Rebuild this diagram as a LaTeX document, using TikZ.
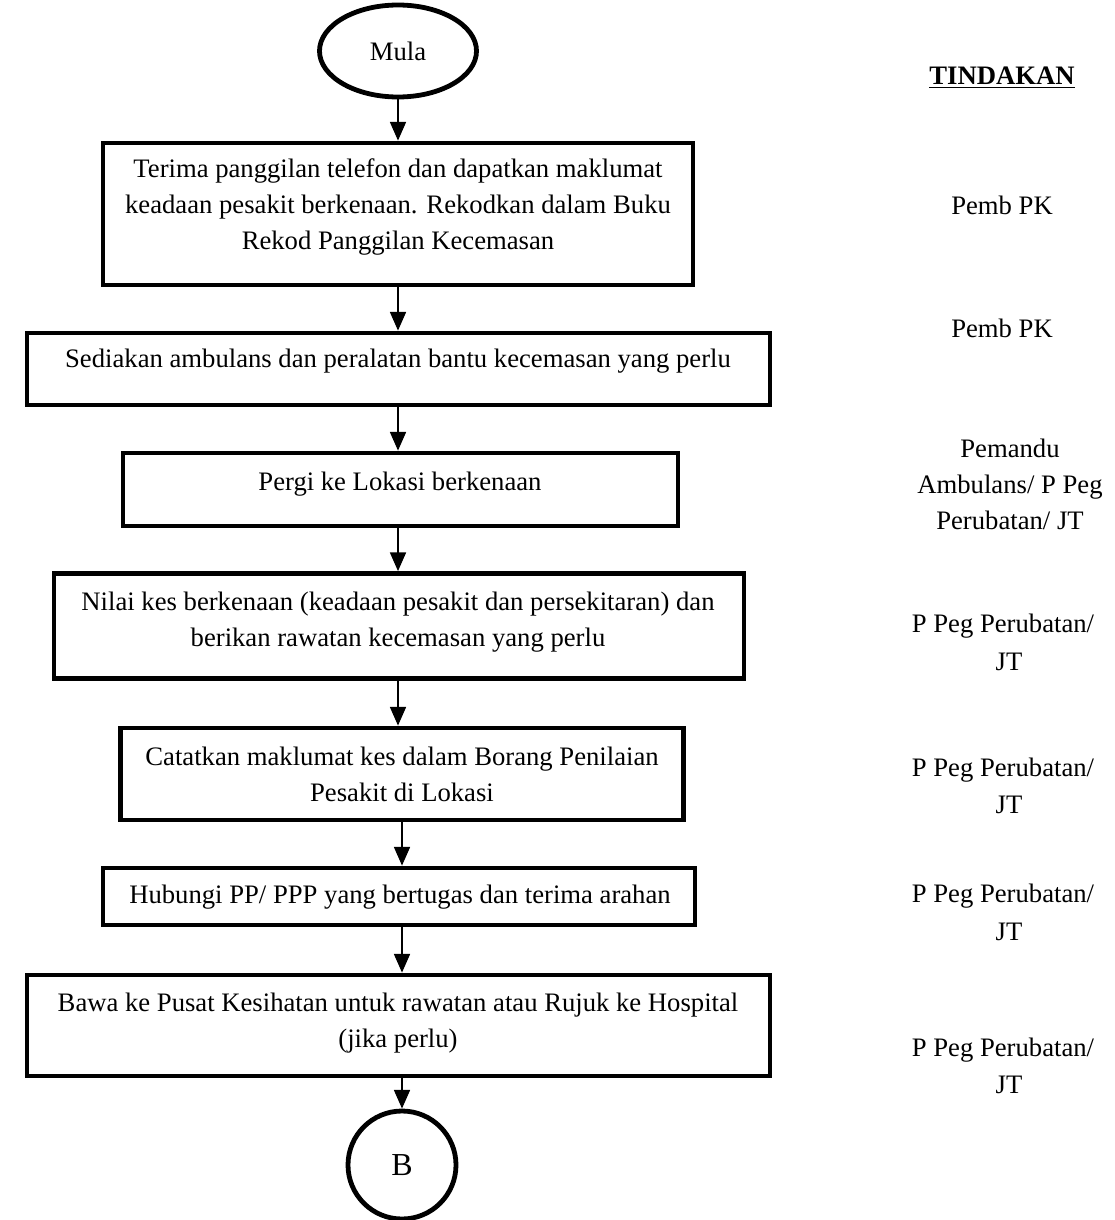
\documentclass[tikz,border=0pt]{standalone}
\usepackage{fontspec}
\setmainfont{Liberation Serif}
\usetikzlibrary{arrows.meta,shapes.geometric}
\begin{document}
\begin{tikzpicture}[x=0.375pt,y=-0.375pt,
  box/.style={draw,line width=1.8pt,rectangle,inner sep=0pt},
  term/.style={draw,line width=1.8pt,ellipse,inner sep=0pt},
  txt/.style={font=\fontsize{10}{13.5}\selectfont,align=center,inner sep=0pt},
  act/.style={font=\fontsize{10}{13.5}\selectfont,inner sep=0pt,align=center},
  arr/.style={line width=0.6pt,-{Triangle[length=7pt,width=6pt]}}]
\useasboundingbox (0,0) rectangle (1114,1220);
\node[term,minimum width=157*0.375pt,minimum height=92*0.375pt] (start) at (398,51) {};
\node[txt] (tstart) at (398,51) {Mula};
\node[box,minimum width=590*0.375pt,minimum height=142*0.375pt] (b1) at (398,214) {};
\node[txt] (t1) at (398,207) {Terima panggilan telefon dan dapatkan maklumat\\keadaan pesakit berkenaan. Rekodkan dalam Buku\\Rekod Panggilan Kecemasan};
\node[box,minimum width=743*0.375pt,minimum height=72*0.375pt] (b2) at (398.5,369) {};
\node[txt] (t2) at (398,361) {Sediakan ambulans dan peralatan bantu kecemasan yang perlu};
\node[box,minimum width=555*0.375pt,minimum height=73*0.375pt] (b3) at (400.5,489.5) {};
\node[txt] (t3) at (400,484) {Pergi ke Lokasi berkenaan};
\node[box,minimum width=690*0.375pt,minimum height=105*0.375pt] (b4) at (399,626) {};
\node[txt] (t4) at (398,622) {Nilai kes berkenaan (keadaan pesakit dan persekitaran) dan\\berikan rawatan kecemasan yang perlu};
\node[box,minimum width=563*0.375pt,minimum height=92*0.375pt] (b5) at (402,774) {};
\node[txt] (t5) at (402,774) {Catatkan maklumat kes dalam Borang Penilaian\\Pesakit di Lokasi};
\node[box,minimum width=592*0.375pt,minimum height=57*0.375pt] (b6) at (399,896.5) {};
\node[txt] (t6) at (400,897) {Hubungi PP/ PPP yang bertugas dan terima arahan};
\node[box,minimum width=743*0.375pt,minimum height=101*0.375pt] (b7) at (398.5,1025.5) {};
\node[txt] (t7) at (398,1023) {Bawa ke Pusat Kesihatan untuk rawatan atau Rujuk ke Hospital\\(jika perlu)};
\node[term,circle,minimum size=108*0.375pt] (end) at (402,1165) {};
\node[txt,font=\fontsize{12}{14}\selectfont] (tend) at (402,1165) {B};
\draw[arr] (start.south) -- (b1.north);
\draw[arr] (b1.south) -- (b1.south |- b2.north);
\draw[arr] (b1.south |- b2.south) -- (b1.south |- b3.north);
\draw[arr] (b1.south |- b3.south) -- (b1.south |- b4.north);
\draw[arr] (b1.south |- b4.south) -- (b1.south |- b5.north);
\draw[arr] (end.north |- b5.south) -- (end.north |- b6.north);
\draw[arr] (end.north |- b6.south) -- (end.north |- b7.north);
\draw[arr] (end.north |- b7.south) -- (end.north);
\node[act] (h) at (1002,78) {\underline{\textbf{TINDAKAN}}};
\node[act] (a1) at (1002,205) {Pemb PK};
\node[act] (a2) at (1002,328) {Pemb PK};
\node[act] (a3) at (1010,484) {Pemandu\\Ambulans/ P Peg\\Perubatan/ JT};
\node[act] (a4) at (1003,626) {P Peg Perubatan/};
\node[act] (a4b) at (1009,662) {JT};
\node[act] (a5) at (1003,770) {P Peg Perubatan/};
\node[act] (a5b) at (1009,805) {JT};
\node[act] (a6) at (1003,896) {P Peg Perubatan/};
\node[act] (a6b) at (1009,932) {JT};
\node[act] (a7) at (1003,1050) {P Peg Perubatan/};
\node[act] (a7b) at (1009,1085) {JT};
\end{tikzpicture}
\end{document}
